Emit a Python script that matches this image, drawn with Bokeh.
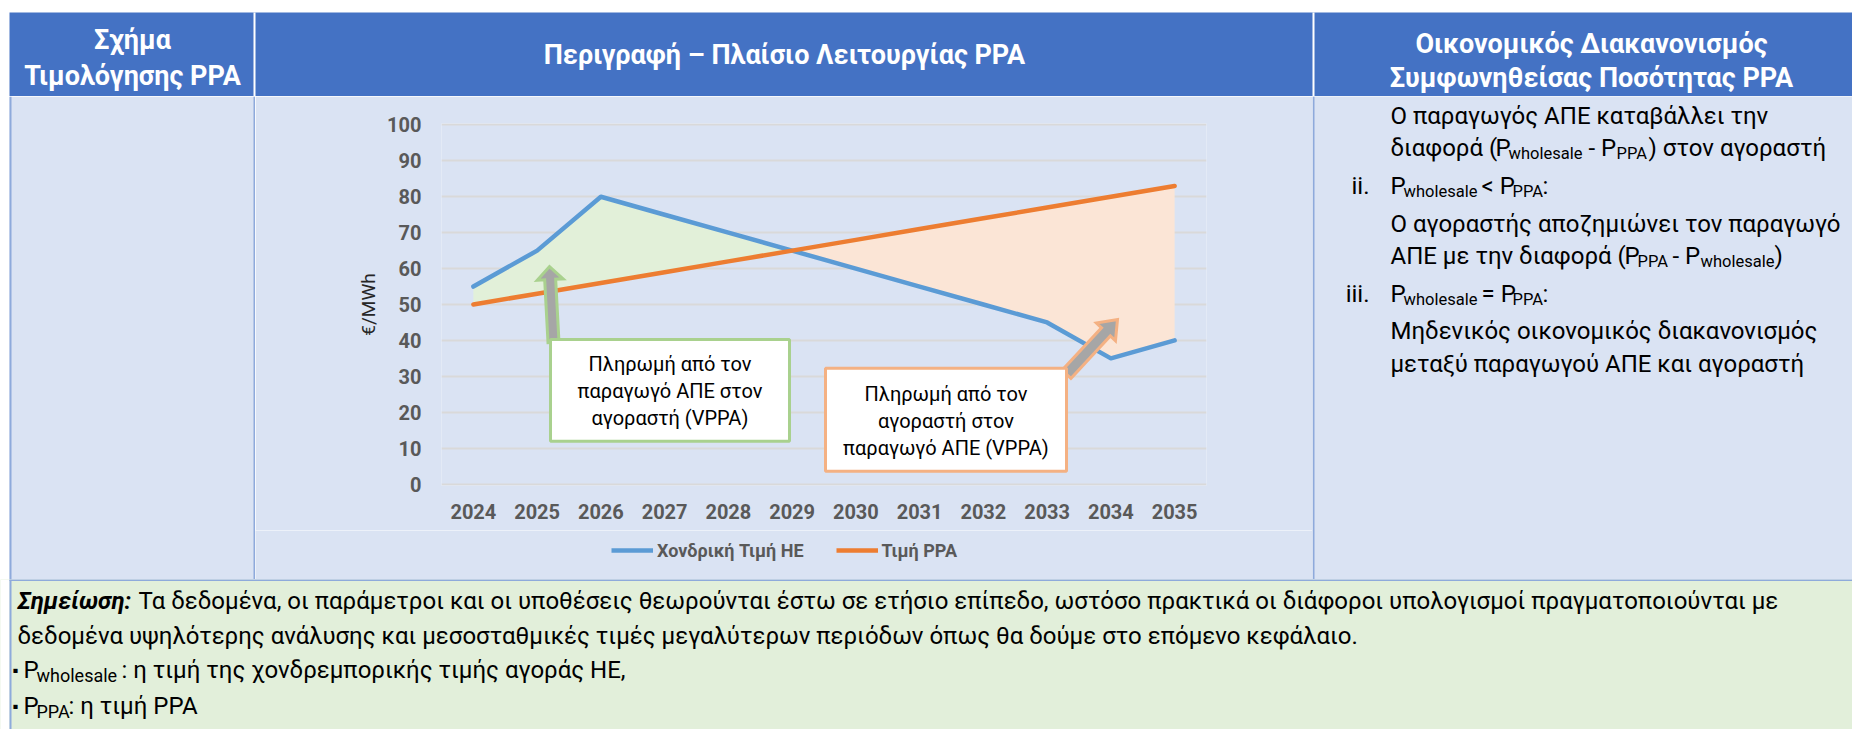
import numpy as np
from bokeh.plotting import figure
from bokeh.models import Range1d, FixedTicker, Legend, LegendItem
from bokeh.layouts import column, row
from bokeh.embed import file_html
from bokeh.resources import INLINE
from bokeh.core.properties import value

# ---------------- data ----------------
years = [2024, 2025, 2026, 2027, 2028, 2029, 2030, 2031, 2032, 2033, 2034, 2035]
wholesale = [55, 65, 80, 75, 70, 65, 60, 55, 50, 45, 35, 40]
ppa_price = [50, 53, 56, 59, 62, 65, 68, 71, 74, 77, 80, 83]
y_ticks = [0, 10, 20, 30, 40, 50, 60, 70, 80, 90, 100]
series_names = ["Χονδρική Τιμή ΗΕ", "Τιμή PPA"]
y_title = "€/MWh"

header_col1 = ["Σχήμα", "Τιμολόγησης PPA"]
header_col2 = ["Περιγραφή – Πλαίσιο Λειτουργίας PPA"]
header_col3 = ["Οικονομικός Διακανονισμός", "Συμφωνηθείσας Ποσότητας PPA"]
callout_green = ["Πληρωμή από τον", "παραγωγό ΑΠΕ στον", "αγοραστή (VPPA)"]
callout_orange = ["Πληρωμή από τον", "αγοραστή στον", "παραγωγό ΑΠΕ (VPPA)"]

# ---------------- style ----------------
FONT = "Roboto"
HEAD_BLUE = "#4472C4"
BODY_BLUE = "#DAE3F3"
NOTE_GREEN = "#E2EFDA"
LINE_BLUE = "#8EAADB"
C_WHOLE = "#5B9BD5"
C_PPA = "#ED7D31"
FILL_GREEN = "#E2F0D9"
FILL_PEACH = "#FBE5D6"
AX_GREY = "#595959"
LINE_W = 4.5

W_PAGE, H_PAGE = 1852, 729
CHART_BOTTOM = 530   # chart figure ends here, legend strip below


def canvas(x0, x1, y0, y1, bg="white"):
    p = figure(width=x1 - x0, height=y1 - y0,
               x_range=Range1d(x0, x1), y_range=Range1d(y1, y0),
               x_axis_location=None, y_axis_location=None,
               output_backend="svg", toolbar_location=None, min_border=0,
               frame_align=False, sizing_mode="fixed")
    p.grid.visible = False
    p.outline_line_color = None
    p.background_fill_color = bg
    p.border_fill_color = bg
    return p


def txt(p, x, y, s, size, color="black", style="normal", align="left", baseline="middle"):
    p.text(x=[x], y=[y], text=[s], text_font=value(FONT),
           text_font_size=f"{size}px", text_color=color, text_font_style=style,
           text_align=align, text_baseline=baseline)


def runs(p, y, pieces, size, sub_size):
    for x, s, kind in pieces:
        if kind == 0:
            txt(p, x, y, s, size)
        elif kind == 1:
            txt(p, x, y + 0.25 * size, s, sub_size)
        elif kind == 3:
            txt(p, x, y, s, 0.7 * size)
        else:
            txt(p, x, y, s, size, align="right")


# ---------------- header row ----------------
hdr = canvas(0, W_PAGE, 0, 96)
hdr.quad(left=[9], right=[W_PAGE], top=[12], bottom=[96], fill_color=HEAD_BLUE, line_color=None)
hdr.segment(x0=[254, 1313], y0=[12, 12], x1=[254, 1313], y1=[96, 96], line_color="white", line_width=2)
HS = 27
txt(hdr, 132, 39, header_col1[0], HS, "white", "bold", "center")
txt(hdr, 132, 75, header_col1[1], HS, "white", "bold", "center")
txt(hdr, 784, 54, header_col2[0], HS, "white", "bold", "center")
txt(hdr, 1591, 43, header_col3[0], HS, "white", "bold", "center")
txt(hdr, 1591, 77, header_col3[1], HS, "white", "bold", "center")

# ---------------- body: left cell ----------------
left = canvas(0, 255, 96, 579)
left.quad(left=[9], right=[255], top=[96], bottom=[579], fill_color=BODY_BLUE, line_color=None)
left.segment(x0=[10, 254], y0=[96, 96], x1=[10, 254], y1=[579, 579], line_color=LINE_BLUE, line_width=2)

# ---------------- body: chart cell ----------------
FL, FR, FT, FB = 441, 1206, 122.6, 485.4    # reference-pixel frame edges
XR = (2023.5, 2035.5)
YR = (-0.4, 100.4)

chart = figure(width=1312 - 255, height=CHART_BOTTOM - 96,
               x_range=Range1d(*XR), y_range=Range1d(*YR),
               output_backend="svg", toolbar_location=None, frame_align=False,
               sizing_mode="fixed",
               min_border_left=FL - 255, min_border_right=1312 - FR,
               min_border_top=int(round(FT - 96)),
               min_border_bottom=int(round(CHART_BOTTOM - FB)))
chart.background_fill_color = BODY_BLUE
chart.border_fill_color = BODY_BLUE
chart.outline_line_color = None


def X(px):
    return XR[0] + (px - FL) * (XR[1] - XR[0]) / (FR - FL)


def Y(py):
    return YR[1] - (py - FT) * (YR[1] - YR[0]) / (FB - FT)


w = np.array(wholesale, dtype=float)
pp = np.array(ppa_price, dtype=float)
chart.varea(x=years, y1=pp, y2=np.maximum(w, pp), fill_color=FILL_GREEN)
chart.varea(x=years, y1=w, y2=np.maximum(pp, w), fill_color=FILL_PEACH)
chart.line(years, wholesale, line_color=C_WHOLE, line_width=LINE_W, line_join="round", line_cap="round")
chart.line(years, ppa_price, line_color=C_PPA, line_width=LINE_W, line_join="round", line_cap="round")


def block_arrow(tail, tip, shaft_hw, head_hw, head_len):
    tx, ty = tail
    hx, hy = tip
    dx, dy = hx - tx, hy - ty
    L = (dx * dx + dy * dy) ** 0.5
    ux, uy = dx / L, dy / L
    nx, ny = -uy, ux
    bx, by = hx - ux * head_len, hy - uy * head_len
    pts = [
        (tx + nx * shaft_hw, ty + ny * shaft_hw),
        (bx + nx * shaft_hw, by + ny * shaft_hw),
        (bx + nx * head_hw, by + ny * head_hw),
        (hx, hy),
        (bx - nx * head_hw, by - ny * head_hw),
        (bx - nx * shaft_hw, by - ny * shaft_hw),
        (tx - nx * shaft_hw, ty - ny * shaft_hw),
    ]
    return [X(a) for a, _ in pts], [Y(b) for _, b in pts]


ax, ay = block_arrow((553, 342), (549, 266), 5.5, 13, 13)
chart.patch(ax, ay, fill_color="#A6A6A6", line_color="#A9D18E", line_width=3, line_join="miter")
ax, ay = block_arrow((1066, 374), (1117, 319), 6, 13, 17)
chart.patch(ax, ay, fill_color="#A6A6A6", line_color="#F4B183", line_width=3, line_join="miter")

chart.quad(left=[X(550)], right=[X(789)], top=[Y(339)], bottom=[Y(441)],
           fill_color="white", line_color="#A9D18E", line_width=3)
chart.quad(left=[X(825)], right=[X(1066)], top=[Y(368)], bottom=[Y(471)],
           fill_color="white", line_color="#F4B183", line_width=3)
CS = 20
for i, s in enumerate(callout_green):
    chart.text(x=[X(669.5)], y=[Y(364 + 27 * i)], text=[s], text_font=value(FONT),
               text_font_size=f"{CS}px", text_color="black", text_align="center", text_baseline="middle")
for i, s in enumerate(callout_orange):
    chart.text(x=[X(945.5)], y=[Y(394 + 27 * i)], text=[s], text_font=value(FONT),
               text_font_size=f"{CS}px", text_color="black", text_align="center", text_baseline="middle")

chart.xaxis.ticker = FixedTicker(ticks=years)
chart.yaxis.ticker = FixedTicker(ticks=y_ticks)
chart.xgrid.visible = False
chart.ygrid.grid_line_color = "#D9D9D9"
chart.ygrid.grid_line_width = 2
for a in chart.axis:
    a.axis_line_color = None
    a.major_tick_line_color = None
    a.minor_tick_line_color = None
    a.major_tick_out = 0
    a.major_tick_in = 0
    a.major_label_text_font = FONT
    a.major_label_text_font_size = "20px"
    a.major_label_text_font_style = "bold"
    a.major_label_text_color = AX_GREY
chart.yaxis.major_label_standoff = 20
chart.xaxis.major_label_standoff = 18
chart.yaxis.axis_label = y_title
chart.yaxis.axis_label_text_font = FONT
chart.yaxis.axis_label_text_font_size = "19px"
chart.yaxis.axis_label_text_font_style = "normal"
chart.yaxis.axis_label_text_color = "#262626"
chart.yaxis.axis_label_standoff = 4

# ---------------- legend strip (below the chart) ----------------
# the series are drawn here again only as legend sources; their years lie outside this strip's range
legfig = canvas(255, 1312, CHART_BOTTOM, 579, BODY_BLUE)
lw = legfig.line(years, wholesale, line_color=C_WHOLE, line_width=LINE_W)
lp = legfig.line(years, ppa_price, line_color=C_PPA, line_width=LINE_W)
leg = Legend(items=[LegendItem(label=series_names[0], renderers=[lw]),
                    LegendItem(label=series_names[1], renderers=[lp])],
             orientation="horizontal", location=(611 - 255, 579 - 561),
             label_text_font=FONT, label_text_font_size="18px", label_text_font_style="bold",
             label_text_color=AX_GREY, glyph_width=42, glyph_height=22, label_height=22,
             label_standoff=4, spacing=32, padding=0, margin=0,
             border_line_color=None, background_fill_alpha=0)
legfig.add_layout(leg)

# ---------------- body: right cell ----------------
right = canvas(1312, W_PAGE, 96, 579, BODY_BLUE)
right.segment(x0=[1313], y0=[96], x1=[1313], y1=[579], line_color=LINE_BLUE, line_width=2)
RS, RSUB = 24, 16.5
right_lines = [
    (115, [(1390, "Ο παραγωγός ΑΠΕ καταβάλλει την", 0)]),
    (147, [(1390, "διαφορά (", 0), (1495, "P", 0), (1508, "wholesale", 1), (1588, "- P", 0),
           (1616, "PPA", 1), (1648, ") στον αγοραστή", 0)]),
    (185, [(1369, "ii.", 2), (1390, "P", 0), (1403, "wholesale", 1), (1481, "< P", 0),
           (1512, "PPA", 1), (1542, ":", 0)]),
    (223, [(1390, "Ο αγοραστής αποζημιώνει τον παραγωγό", 0)]),
    (255, [(1390, "ΑΠΕ με την διαφορά (", 0), (1624, "P", 0), (1637, "PPA", 1), (1672, "- P", 0),
           (1700, "wholesale", 1), (1774, ")", 0)]),
    (293, [(1369, "iii.", 2), (1390, "P", 0), (1403, "wholesale", 1), (1481, "= P", 0),
           (1512, "PPA", 1), (1542, ":", 0)]),
    (330, [(1390, "Μηδενικός οικονομικός διακανονισμός", 0)]),
    (363, [(1390, "μεταξύ παραγωγού ΑΠΕ και αγοραστή", 0)]),
]
for y, pieces in right_lines:
    runs(right, y, pieces, RS, RSUB)

# ---------------- note row ----------------
note = canvas(0, W_PAGE, 579, H_PAGE, NOTE_GREEN)
note.quad(left=[0], right=[9], top=[579], bottom=[H_PAGE], fill_color="white", line_color=None)
note.segment(x0=[9], y0=[579], x1=[W_PAGE], y1=[579], line_color=LINE_BLUE, line_width=3)
note.segment(x0=[10], y0=[579], x1=[10], y1=[H_PAGE], line_color=LINE_BLUE, line_width=2)
NS, NSUB = 24, 18
txt(note, 17, 600, "Σημείωση:", NS, style="bold italic")
txt(note, 138, 600, "Τα δεδομένα, οι παράμετροι και οι υποθέσεις θεωρούνται έστω σε ετήσιο επίπεδο, "
                    "ωστόσο πρακτικά οι διάφοροι υπολογισμοί πραγματοποιούνται με", NS)
txt(note, 17, 635, "δεδομένα υψηλότερης ανάλυσης και μεσοσταθμικές τιμές μεγαλύτερων περιόδων "
                   "όπως θα δούμε στο επόμενο κεφάλαιο.", NS)
runs(note, 669, [(12, "▪", 3), (23, "P", 0), (36, "wholesale", 1),
                 (121, ": η τιμή της χονδρεμπορικής τιμής αγοράς ΗΕ,", 0)], NS, NSUB)
runs(note, 705, [(12, "▪", 3), (23, "P", 0), (36, "PPA", 1), (68, ": η τιμή PPA", 0)], NS, NSUB)

layout = column(hdr, row(left, column(chart, legfig), right), note)
open("out.html", "w").write(file_html(layout, INLINE))
